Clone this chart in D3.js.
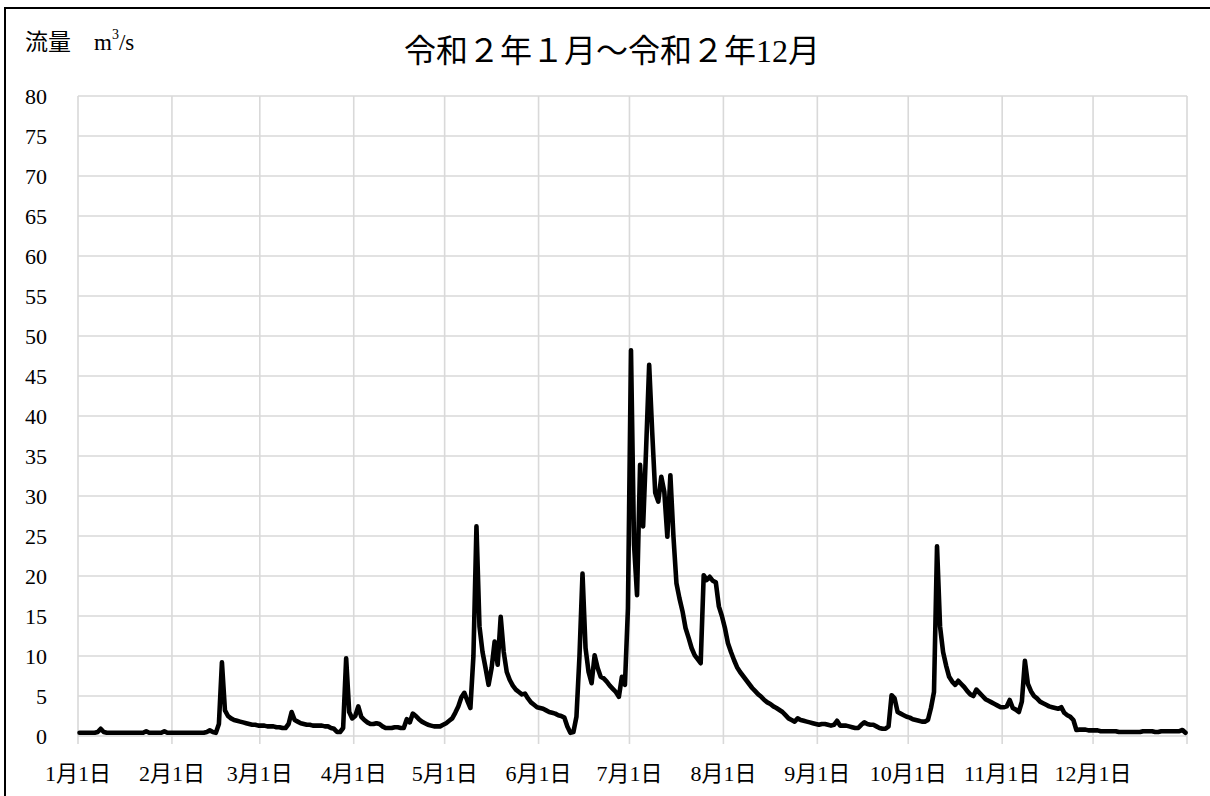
<!DOCTYPE html>
<html lang="ja">
<head>
    <meta charset="UTF-8">
    <title>流量 令和2年</title>
    <script src="https://d3js.org/d3.v7.min.js"></script>
    <style>
        body {
            margin: 0;
            background: #ffffff;
        }
        svg text {
            font-family: "Liberation Serif", "Noto Sans CJK JP", serif;
            fill: #000;
        }
        .grid line {
            stroke: #d9d9d9;
            stroke-width: 1.6;
        }
        .flow {
            fill: none;
            stroke: #000;
            stroke-width: 4.6;
            stroke-linejoin: round;
            stroke-linecap: round;
        }
    </style>
</head>
<body>
    <svg id="chart" width="1210" height="796"></svg>

    <script>
        // daily flow (m3/s), one array per month, 2020 (leap year)
        const jan = [0.4,0.4,0.4,0.4,0.4,0.4,0.5,0.9,0.5,0.4, 0.4,0.4,0.4,0.4,0.4,0.4,0.4,0.4,0.4,0.4, 0.4,0.4,0.6,0.4,0.4,0.4,0.4,0.4,0.6,0.4, 0.4];
        const feb = [0.4,0.4,0.4,0.4,0.4,0.4,0.4,0.4,0.4,0.4, 0.4,0.5,0.7,0.5,0.4,1.5,9.2,3.2,2.5,2.2, 2.0,1.9,1.8,1.7,1.6,1.5,1.4,1.4,1.3];
        const mar = [1.3,1.3,1.2,1.2,1.2,1.1,1.1,1.0,1.0,1.5, 3.0,2.0,1.8,1.6,1.5,1.4,1.4,1.3,1.3,1.3, 1.3,1.2,1.2,1.0,0.9,0.5,0.5,1.0,9.7,3.0, 2.2];
        const apr = [2.5,3.7,2.4,2.0,1.7,1.5,1.5,1.6,1.5,1.2, 1.0,1.0,1.0,1.1,1.1,1.0,1.0,2.1,1.7,2.8, 2.5,2.1,1.8,1.6,1.4,1.3,1.2,1.2,1.2,1.4];
        const may = [1.6,1.9,2.2,2.9,3.7,4.8,5.4,4.4,3.5,10, 26.2,13.7,10.5,8.5,6.4,8.5,11.8,8.9,14.9,10.5, 8.0,7.0,6.3,5.8,5.5,5.2,5.3,4.7,4.2,3.9, 3.6];
        const jun = [3.5,3.4,3.2,3.0,2.9,2.8,2.6,2.5,2.3,1.2, 0.4,0.5,2.4,10,20.3,11,8,6.6,10.1,8.5, 7.4,7.2,6.8,6.3,5.9,5.5,4.9,7.4,6.4,16];
        const jul = [48.2,24,17.6,33.9,26.2,36,46.4,38,30.4,29.3, 32.4,30.5,24.9,32.6,25,19.1,17.2,15.6,13.5,12.3, 11,10.1,9.6,9.1,20.1,19.5,19.9,19.4,19.2,16.2, 15];
        const aug = [13.5,11.6,10.5,9.5,8.6,8.0,7.5,7.0,6.5,6.0, 5.6,5.2,4.9,4.5,4.2,4.0,3.7,3.5,3.25,3.0, 2.6,2.2,2.0,1.8,2.2,2.0,1.9,1.8,1.7,1.6, 1.5];
        const sep = [1.4,1.5,1.5,1.4,1.3,1.4,1.9,1.3,1.3,1.3, 1.2,1.1,1.0,1.0,1.4,1.7,1.5,1.4,1.4,1.2, 1.0,0.9,0.9,1.2,5.1,4.7,3.0,2.8,2.6,2.4];
        const oct = [2.3,2.1,2.0,1.9,1.8,1.8,2.0,3.5,5.5,23.7, 13.7,10.5,8.8,7.4,6.8,6.4,6.9,6.5,6.1,5.6, 5.2,5.0,5.8,5.4,5.0,4.6,4.4,4.2,4.0,3.8, 3.6];
        const nov = [3.6,3.7,4.5,3.5,3.3,3.0,4.3,9.4,6.5,5.6, 5.0,4.7,4.3,4.1,3.9,3.7,3.6,3.5,3.4,3.6, 2.9,2.6,2.4,2.0,0.75,0.8,0.8,0.8,0.7,0.7];
        const dec = [0.7,0.7,0.6,0.6,0.6,0.6,0.6,0.6,0.5,0.5, 0.5,0.5,0.5,0.5,0.5,0.5,0.6,0.6,0.6,0.6, 0.5,0.5,0.6,0.6,0.6,0.6,0.6,0.6,0.6,0.75, 0.4];

        const monthLabels = ["1月1日", "2月1日", "3月1日", "4月1日", "5月1日", "6月1日",
                             "7月1日", "8月1日", "9月1日", "10月1日", "11月1日", "12月1日"];
        const yTicks = [0, 5, 10, 15, 20, 25, 30, 35, 40, 45, 50, 55, 60, 65, 70, 75, 80];

        const flow = [].concat(jan, feb, mar, apr, may, jun, jul, aug, sep, oct, nov, dec);
        const start = new Date(Date.UTC(2020, 0, 1));
        const end = new Date(Date.UTC(2021, 0, 1));
        const series = flow.map((v, i) => ({ date: d3.utcDay.offset(start, i), value: v }));

        const svg = d3.select("#chart");

        const x = d3.scaleUtc().domain([start, end]).range([78, 1187]);
        const y = d3.scaleLinear().domain([0, 80]).range([736, 96]);

        // outer frame (cropped at right / bottom)
        svg.append("rect")
            .attr("x", 5).attr("y", 8)
            .attr("width", 1400).attr("height", 1000)
            .attr("fill", "none")
            .attr("stroke", "#000")
            .attr("stroke-width", 2);

        // gridlines
        const grid = svg.append("g").attr("class", "grid");
        grid.selectAll(".h")
            .data(yTicks)
            .enter().append("line")
            .attr("class", "h")
            .attr("x1", x.range()[0]).attr("x2", x.range()[1])
            .attr("y1", d => y(d)).attr("y2", d => y(d));

        const monthStarts = d3.utcMonth.range(start, d3.utcDay.offset(end, 1));
        grid.selectAll(".v")
            .data(monthStarts)
            .enter().append("line")
            .attr("class", "v")
            .attr("x1", d => x(d)).attr("x2", d => x(d))
            .attr("y1", y(80)).attr("y2", y(0) + 8);

        // y tick labels
        svg.append("g")
            .selectAll("text")
            .data(yTicks)
            .enter().append("text")
            .attr("x", 47)
            .attr("y", d => y(d))
            .attr("text-anchor", "end")
            .attr("dominant-baseline", "central")
            .style("font-size", "22px")
            .text(d => d);

        // x tick labels
        svg.append("g")
            .selectAll("text")
            .data(monthLabels)
            .enter().append("text")
            .attr("x", (d, i) => x(monthStarts[i]))
            .attr("y", 773)
            .attr("text-anchor", "middle")
            .attr("dominant-baseline", "central")
            .style("font-size", "22px")
            .text(d => d);

        // flow line, points at the middle of each day
        const line = d3.line()
            .x(d => x(d3.utcHour.offset(d.date, 12)))
            .y(d => y(d.value));

        svg.append("path")
            .datum(series)
            .attr("class", "flow")
            .attr("d", line);

        // titles
        const yTitle = svg.append("text")
            .attr("x", 25)
            .attr("y", 42)
            .attr("dominant-baseline", "central")
            .style("font-size", "23px");
        yTitle.append("tspan").text("流量　m");
        yTitle.append("tspan").attr("dy", -8).style("font-size", "14px").text("3");
        yTitle.append("tspan").attr("dy", 8).text("/s");

        svg.append("text")
            .attr("x", 612)
            .attr("y", 51)
            .attr("text-anchor", "middle")
            .attr("dominant-baseline", "central")
            .style("font-size", "32px")
            .text("令和２年１月～令和２年12月");
    </script>
</body>
</html>
